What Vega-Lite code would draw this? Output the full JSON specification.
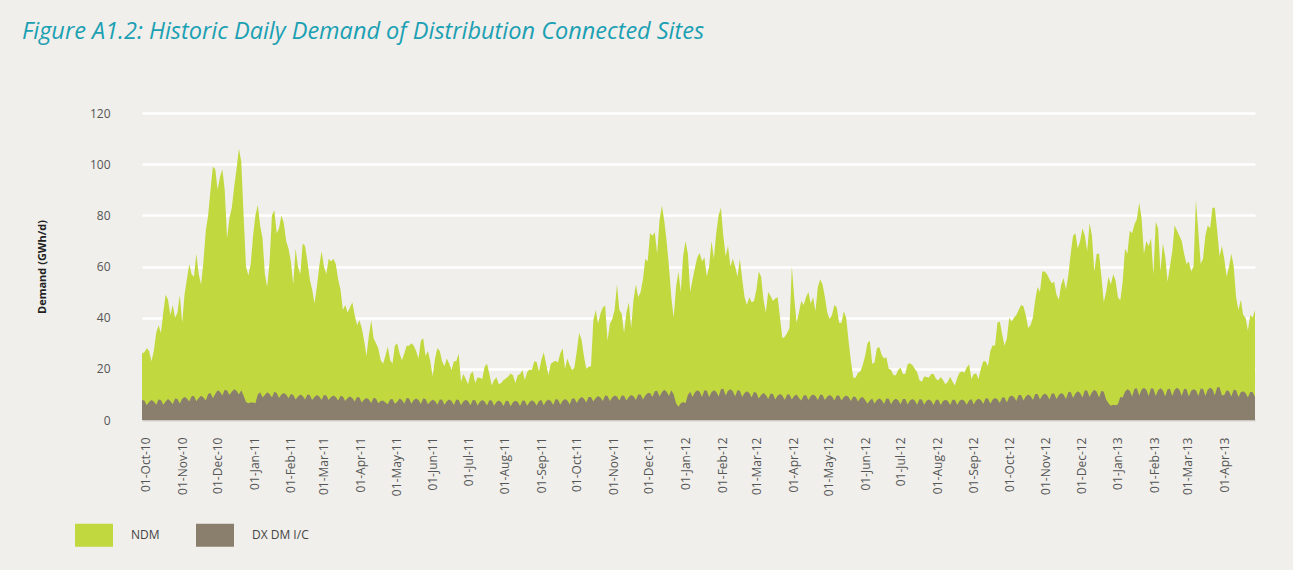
{
"$schema":"https://vega.github.io/schema/vega-lite/v6.json",
"width":1113,"height":307,
"autosize":{"type":"none"},
"padding":{"left":142,"top":113,"right":38,"bottom":150},
"background":"#f0efeb",
"title":{"text":"Figure A1.2: Historic Daily Demand of Distribution Connected Sites","anchor":"start","frame":"group","dx":-120,"offset":64,"font":"Open Sans","fontStyle":"italic","fontWeight":"normal","fontSize":23.5,"color":"#1ba0b3"},
"config":{"view":{"stroke":null},"font":"Open Sans"},
"data":{"values":[
{"date":"2010-09-28","total":26,"dx":7.8},{"date":"2010-09-30","total":26.5,"dx":7.6},{"date":"2010-10-02","total":28,"dx":5.8},{"date":"2010-10-04","total":27,"dx":7},
{"date":"2010-10-06","total":23,"dx":7.8},{"date":"2010-10-08","total":27,"dx":7.2},{"date":"2010-10-10","total":34,"dx":6},{"date":"2010-10-12","total":37,"dx":8},
{"date":"2010-10-14","total":34,"dx":7.8},{"date":"2010-10-16","total":42,"dx":6},{"date":"2010-10-18","total":49,"dx":7.2},{"date":"2010-10-20","total":47,"dx":8.2},
{"date":"2010-10-22","total":41,"dx":7.4},{"date":"2010-10-24","total":45,"dx":6.2},{"date":"2010-10-26","total":40,"dx":8.4},{"date":"2010-10-28","total":42,"dx":8.2},
{"date":"2010-10-30","total":49,"dx":6.4},{"date":"2010-11-01","total":38,"dx":8.3},{"date":"2010-11-03","total":49,"dx":9},{"date":"2010-11-05","total":55,"dx":8.4},
{"date":"2010-11-07","total":61,"dx":7.2},{"date":"2010-11-09","total":57,"dx":9.3},{"date":"2010-11-11","total":56,"dx":9.4},{"date":"2010-11-13","total":65,"dx":7.3},
{"date":"2010-11-15","total":57,"dx":8.6},{"date":"2010-11-17","total":53,"dx":9.5},{"date":"2010-11-19","total":62,"dx":8.8},{"date":"2010-11-21","total":74,"dx":7.6},
{"date":"2010-11-23","total":80,"dx":10.2},{"date":"2010-11-25","total":90,"dx":10.6},{"date":"2010-11-27","total":99,"dx":8.5},{"date":"2010-11-29","total":98,"dx":10.2},
{"date":"2010-12-01","total":90,"dx":11.6},{"date":"2010-12-03","total":95,"dx":11},{"date":"2010-12-05","total":98,"dx":9.6},{"date":"2010-12-07","total":90,"dx":11.8},
{"date":"2010-12-09","total":71,"dx":11.5},{"date":"2010-12-11","total":79,"dx":9.8},{"date":"2010-12-13","total":83,"dx":11},{"date":"2010-12-15","total":91,"dx":12},
{"date":"2010-12-17","total":98,"dx":11.4},{"date":"2010-12-19","total":106,"dx":10},{"date":"2010-12-21","total":101,"dx":11.6},{"date":"2010-12-23","total":80,"dx":9.5},
{"date":"2010-12-25","total":60,"dx":7},{"date":"2010-12-27","total":56.5,"dx":6.5},{"date":"2010-12-29","total":61,"dx":6.8},{"date":"2010-12-31","total":72,"dx":6.8},
{"date":"2011-01-02","total":80,"dx":6.5},{"date":"2011-01-04","total":84,"dx":10},{"date":"2011-01-06","total":76,"dx":10.8},{"date":"2011-01-08","total":71,"dx":8.8},
{"date":"2011-01-10","total":57,"dx":9.8},{"date":"2011-01-12","total":52,"dx":10.8},{"date":"2011-01-14","total":62,"dx":10.2},{"date":"2011-01-16","total":80,"dx":8.8},
{"date":"2011-01-18","total":82,"dx":11},{"date":"2011-01-20","total":73,"dx":10.6},{"date":"2011-01-22","total":75,"dx":8.6},{"date":"2011-01-24","total":80,"dx":10},
{"date":"2011-01-26","total":77,"dx":10.6},{"date":"2011-01-28","total":70,"dx":10},{"date":"2011-01-30","total":67,"dx":8.5},{"date":"2011-02-01","total":62,"dx":10.2},
{"date":"2011-02-03","total":53,"dx":9.8},{"date":"2011-02-05","total":67,"dx":8},{"date":"2011-02-07","total":60,"dx":9.2},{"date":"2011-02-09","total":57,"dx":10},
{"date":"2011-02-11","total":69,"dx":9.4},{"date":"2011-02-13","total":68,"dx":8},{"date":"2011-02-15","total":62,"dx":10},{"date":"2011-02-17","total":55,"dx":9.8},
{"date":"2011-02-19","total":51,"dx":7.8},{"date":"2011-02-21","total":45.5,"dx":9},{"date":"2011-02-23","total":52,"dx":9.8},{"date":"2011-02-25","total":60,"dx":9.2},
{"date":"2011-02-27","total":66,"dx":7.8},{"date":"2011-03-01","total":60,"dx":9.8},{"date":"2011-03-03","total":57,"dx":9.6},{"date":"2011-03-05","total":63,"dx":7.8},
{"date":"2011-03-07","total":62,"dx":9},{"date":"2011-03-09","total":63,"dx":9.6},{"date":"2011-03-11","total":61,"dx":9},{"date":"2011-03-13","total":55,"dx":7.6},
{"date":"2011-03-15","total":51,"dx":9.4},{"date":"2011-03-17","total":43,"dx":9.2},{"date":"2011-03-19","total":45,"dx":7.4},{"date":"2011-03-21","total":42,"dx":8.6},
{"date":"2011-03-23","total":44,"dx":9.2},{"date":"2011-03-25","total":46,"dx":8.6},{"date":"2011-03-27","total":41,"dx":7.2},{"date":"2011-03-29","total":37,"dx":9},
{"date":"2011-03-31","total":39,"dx":8.8},{"date":"2011-04-02","total":36,"dx":6.8},{"date":"2011-04-04","total":31,"dx":8},{"date":"2011-04-06","total":25,"dx":8.6},
{"date":"2011-04-08","total":33,"dx":8},{"date":"2011-04-10","total":39,"dx":6.6},{"date":"2011-04-12","total":32,"dx":8.6},{"date":"2011-04-14","total":30,"dx":8.4},
{"date":"2011-04-16","total":28,"dx":6.5},{"date":"2011-04-18","total":23.5,"dx":7.4},{"date":"2011-04-20","total":22,"dx":7.6},{"date":"2011-04-22","total":25,"dx":6.8},
{"date":"2011-04-24","total":28.6,"dx":6.2},{"date":"2011-04-26","total":23.5,"dx":8},{"date":"2011-04-28","total":22,"dx":8.2},{"date":"2011-04-30","total":29,"dx":6.4},
{"date":"2011-05-02","total":30,"dx":7},{"date":"2011-05-04","total":26,"dx":8.4},{"date":"2011-05-06","total":23.4,"dx":7.8},{"date":"2011-05-08","total":26,"dx":6.4},
{"date":"2011-05-10","total":29,"dx":8.6},{"date":"2011-05-12","total":29,"dx":8.4},{"date":"2011-05-14","total":30,"dx":6.4},{"date":"2011-05-16","total":29,"dx":7.8},
{"date":"2011-05-18","total":27,"dx":8.4},{"date":"2011-05-20","total":24,"dx":7.8},{"date":"2011-05-22","total":31,"dx":6.3},{"date":"2011-05-24","total":32,"dx":8.4},
{"date":"2011-05-26","total":25,"dx":8.2},{"date":"2011-05-28","total":27,"dx":6.2},{"date":"2011-05-30","total":23,"dx":7.2},{"date":"2011-06-01","total":17,"dx":7.9},
{"date":"2011-06-03","total":24,"dx":7.4},{"date":"2011-06-05","total":28,"dx":6},{"date":"2011-06-07","total":27,"dx":8},{"date":"2011-06-09","total":23,"dx":7.9},
{"date":"2011-06-11","total":21,"dx":6},{"date":"2011-06-13","total":24,"dx":7.3},{"date":"2011-06-15","total":22,"dx":8},{"date":"2011-06-17","total":19.5,"dx":7.4},
{"date":"2011-06-19","total":23,"dx":5.9},{"date":"2011-06-21","total":23,"dx":8},{"date":"2011-06-23","total":26,"dx":7.8},{"date":"2011-06-25","total":15,"dx":5.8},
{"date":"2011-06-27","total":18,"dx":7.2},{"date":"2011-06-29","total":16,"dx":7.9},{"date":"2011-07-01","total":14,"dx":7.3},{"date":"2011-07-03","total":18,"dx":5.8},
{"date":"2011-07-05","total":19,"dx":7.8},{"date":"2011-07-07","total":14.5,"dx":7.7},{"date":"2011-07-09","total":16.6,"dx":5.7},{"date":"2011-07-11","total":16.5,"dx":7.1},
{"date":"2011-07-13","total":16,"dx":7.8},{"date":"2011-07-15","total":20.8,"dx":7.2},{"date":"2011-07-17","total":22,"dx":5.7},{"date":"2011-07-19","total":18,"dx":7.7},
{"date":"2011-07-21","total":13.5,"dx":7.6},{"date":"2011-07-23","total":15.6,"dx":5.6},{"date":"2011-07-25","total":16.6,"dx":7},{"date":"2011-07-27","total":14,"dx":7.6},
{"date":"2011-07-29","total":14.5,"dx":7},{"date":"2011-07-31","total":15.6,"dx":5.5},{"date":"2011-08-02","total":16.2,"dx":7.5},{"date":"2011-08-04","total":17,"dx":7.4},
{"date":"2011-08-06","total":18.2,"dx":5.4},{"date":"2011-08-08","total":17.5,"dx":6.9},{"date":"2011-08-10","total":14.5,"dx":7.5},{"date":"2011-08-12","total":17.5,"dx":7},
{"date":"2011-08-14","total":18,"dx":5.5},{"date":"2011-08-16","total":19.5,"dx":7.6},{"date":"2011-08-18","total":15.6,"dx":7.5},{"date":"2011-08-20","total":18.8,"dx":5.6},
{"date":"2011-08-22","total":19.7,"dx":7},{"date":"2011-08-24","total":19.5,"dx":7.7},{"date":"2011-08-26","total":23,"dx":7.1},{"date":"2011-08-28","total":22.7,"dx":5.7},
{"date":"2011-08-30","total":19,"dx":7.4},{"date":"2011-09-01","total":23.5,"dx":7.8},{"date":"2011-09-03","total":26.5,"dx":5.8},{"date":"2011-09-05","total":22,"dx":7.3},
{"date":"2011-09-07","total":17.5,"dx":8},{"date":"2011-09-09","total":22,"dx":7.4},{"date":"2011-09-11","total":22.7,"dx":5.9},{"date":"2011-09-13","total":23.2,"dx":8.1},
{"date":"2011-09-15","total":22.5,"dx":8},{"date":"2011-09-17","total":26,"dx":6},{"date":"2011-09-19","total":28,"dx":7.5},{"date":"2011-09-21","total":20,"dx":8.2},
{"date":"2011-09-23","total":24,"dx":7.6},{"date":"2011-09-25","total":21.5,"dx":6.1},{"date":"2011-09-27","total":19.5,"dx":8.4},{"date":"2011-09-29","total":20.5,"dx":8.4},
{"date":"2011-10-01","total":27,"dx":6.6},{"date":"2011-10-03","total":34,"dx":8.2},{"date":"2011-10-05","total":31.5,"dx":9},{"date":"2011-10-07","total":25,"dx":8.4},
{"date":"2011-10-09","total":20,"dx":6.8},{"date":"2011-10-11","total":20.8,"dx":9},{"date":"2011-10-13","total":21,"dx":9},{"date":"2011-10-15","total":39,"dx":7.2},
{"date":"2011-10-17","total":43,"dx":8.6},{"date":"2011-10-19","total":37.7,"dx":9.4},{"date":"2011-10-21","total":41.5,"dx":8.8},{"date":"2011-10-23","total":44,"dx":7.4},
{"date":"2011-10-25","total":44.8,"dx":9.6},{"date":"2011-10-27","total":31,"dx":9.4},{"date":"2011-10-29","total":37.5,"dx":7.4},{"date":"2011-10-31","total":39.5,"dx":8.8},
{"date":"2011-11-02","total":43,"dx":9.6},{"date":"2011-11-04","total":53,"dx":9.2},{"date":"2011-11-06","total":43,"dx":7.6},{"date":"2011-11-08","total":41.5,"dx":9.6},
{"date":"2011-11-10","total":34,"dx":9.5},{"date":"2011-11-12","total":42,"dx":7.6},{"date":"2011-11-14","total":46,"dx":9},{"date":"2011-11-16","total":36,"dx":9.8},
{"date":"2011-11-18","total":47,"dx":9.3},{"date":"2011-11-20","total":53,"dx":7.8},{"date":"2011-11-22","total":48,"dx":10},{"date":"2011-11-24","total":50,"dx":10},
{"date":"2011-11-26","total":55,"dx":8},{"date":"2011-11-28","total":63,"dx":9.6},{"date":"2011-11-30","total":62,"dx":10.6},{"date":"2011-12-02","total":73,"dx":10.6},
{"date":"2011-12-04","total":72,"dx":9},{"date":"2011-12-06","total":73.4,"dx":11.2},{"date":"2011-12-08","total":65,"dx":11.4},{"date":"2011-12-10","total":78,"dx":9.2},
{"date":"2011-12-12","total":83.8,"dx":10.8},{"date":"2011-12-14","total":78,"dx":11.8},{"date":"2011-12-16","total":70,"dx":11},{"date":"2011-12-18","total":60,"dx":9.4},
{"date":"2011-12-20","total":48,"dx":11.6},{"date":"2011-12-22","total":40,"dx":10},{"date":"2011-12-24","total":52,"dx":6.5},{"date":"2011-12-26","total":58,"dx":5.2},
{"date":"2011-12-28","total":50,"dx":6.5},{"date":"2011-12-30","total":64,"dx":7},{"date":"2012-01-01","total":70,"dx":6.5},{"date":"2012-01-03","total":65,"dx":9.8},
{"date":"2012-01-05","total":50,"dx":11},{"date":"2012-01-07","total":55,"dx":9},{"date":"2012-01-09","total":59.5,"dx":10.8},{"date":"2012-01-11","total":63.6,"dx":11.6},
{"date":"2012-01-13","total":65.3,"dx":11},{"date":"2012-01-15","total":62,"dx":9},{"date":"2012-01-17","total":63.6,"dx":11.6},{"date":"2012-01-19","total":56,"dx":11.4},
{"date":"2012-01-21","total":60,"dx":9},{"date":"2012-01-23","total":70,"dx":10.8},{"date":"2012-01-25","total":63,"dx":11.6},{"date":"2012-01-27","total":73,"dx":11},
{"date":"2012-01-29","total":80,"dx":9.2},{"date":"2012-01-31","total":83,"dx":12},{"date":"2012-02-02","total":72,"dx":12.2},{"date":"2012-02-04","total":64,"dx":9.6},
{"date":"2012-02-06","total":68,"dx":11.4},{"date":"2012-02-08","total":60,"dx":12},{"date":"2012-02-10","total":63,"dx":11.2},{"date":"2012-02-12","total":60,"dx":9.2},
{"date":"2012-02-14","total":56,"dx":11.6},{"date":"2012-02-16","total":63,"dx":11.4},{"date":"2012-02-18","total":55,"dx":9},{"date":"2012-02-20","total":48,"dx":10.6},
{"date":"2012-02-22","total":45,"dx":11.2},{"date":"2012-02-24","total":48,"dx":10.6},{"date":"2012-02-26","total":46,"dx":8.8},{"date":"2012-02-28","total":46.5,"dx":11},
{"date":"2012-03-01","total":51,"dx":10.6},{"date":"2012-03-03","total":58,"dx":8.4},{"date":"2012-03-05","total":56,"dx":9.8},{"date":"2012-03-07","total":47,"dx":10.6},
{"date":"2012-03-09","total":42,"dx":9.8},{"date":"2012-03-11","total":50,"dx":8.2},{"date":"2012-03-13","total":48.5,"dx":10.4},{"date":"2012-03-15","total":46.5,"dx":10.2},
{"date":"2012-03-17","total":47.5,"dx":8},{"date":"2012-03-19","total":48,"dx":9.6},{"date":"2012-03-21","total":40,"dx":10.2},{"date":"2012-03-23","total":32,"dx":9.6},
{"date":"2012-03-25","total":32.5,"dx":7.8},{"date":"2012-03-27","total":34,"dx":10},{"date":"2012-03-29","total":36,"dx":10},{"date":"2012-03-31","total":60,"dx":8},
{"date":"2012-04-02","total":48,"dx":9.4},{"date":"2012-04-04","total":38,"dx":10},{"date":"2012-04-06","total":42,"dx":8.6},{"date":"2012-04-08","total":46.5,"dx":7.6},
{"date":"2012-04-10","total":45,"dx":9.6},{"date":"2012-04-12","total":48,"dx":9.8},{"date":"2012-04-14","total":50,"dx":7.8},{"date":"2012-04-16","total":45.5,"dx":9.4},
{"date":"2012-04-18","total":48,"dx":10},{"date":"2012-04-20","total":42.5,"dx":9.4},{"date":"2012-04-22","total":52,"dx":7.8},{"date":"2012-04-24","total":55,"dx":10},
{"date":"2012-04-26","total":53,"dx":9.8},{"date":"2012-04-28","total":48,"dx":7.8},{"date":"2012-04-30","total":42,"dx":9.2},{"date":"2012-05-02","total":39.5,"dx":9.8},
{"date":"2012-05-04","total":41,"dx":9.2},{"date":"2012-05-06","total":45,"dx":7.6},{"date":"2012-05-08","total":44,"dx":9.6},{"date":"2012-05-10","total":38,"dx":9.6},
{"date":"2012-05-12","total":38,"dx":7.6},{"date":"2012-05-14","total":42.5,"dx":9},{"date":"2012-05-16","total":40,"dx":9.6},{"date":"2012-05-18","total":31,"dx":9},
{"date":"2012-05-20","total":23,"dx":7.4},{"date":"2012-05-22","total":16.5,"dx":9.2},{"date":"2012-05-24","total":16.5,"dx":9},{"date":"2012-05-26","total":18.5,"dx":7.2},
{"date":"2012-05-28","total":19,"dx":8.6},{"date":"2012-05-30","total":21.5,"dx":9},{"date":"2012-06-01","total":25,"dx":7.8},{"date":"2012-06-03","total":30,"dx":6.4},
{"date":"2012-06-05","total":31,"dx":7.6},{"date":"2012-06-07","total":22,"dx":8.4},{"date":"2012-06-09","total":22.5,"dx":6.4},{"date":"2012-06-11","total":28,"dx":7.8},
{"date":"2012-06-13","total":28.5,"dx":8.4},{"date":"2012-06-15","total":25.5,"dx":7.8},{"date":"2012-06-17","total":24,"dx":6.3},{"date":"2012-06-19","total":24.5,"dx":8.4},
{"date":"2012-06-21","total":20,"dx":8.3},{"date":"2012-06-23","total":19.5,"dx":6.2},{"date":"2012-06-25","total":17.5,"dx":7.7},{"date":"2012-06-27","total":17.5,"dx":8.3},
{"date":"2012-06-29","total":19.5,"dx":7.7},{"date":"2012-07-01","total":20.5,"dx":6.2},{"date":"2012-07-03","total":18,"dx":8.2},{"date":"2012-07-05","total":18,"dx":8.2},
{"date":"2012-07-07","total":21.8,"dx":6.1},{"date":"2012-07-09","total":22.2,"dx":7.6},{"date":"2012-07-11","total":21.5,"dx":8.2},{"date":"2012-07-13","total":20,"dx":7.6},
{"date":"2012-07-15","total":18.8,"dx":6},{"date":"2012-07-17","total":15.5,"dx":8.1},{"date":"2012-07-19","total":15,"dx":8},{"date":"2012-07-21","total":17,"dx":6},
{"date":"2012-07-23","total":16.8,"dx":7.5},{"date":"2012-07-25","total":16.6,"dx":8},{"date":"2012-07-27","total":18,"dx":7.4},{"date":"2012-07-29","total":18,"dx":5.9},
{"date":"2012-07-31","total":16,"dx":7.9},{"date":"2012-08-02","total":15.5,"dx":7.9},{"date":"2012-08-04","total":16.8,"dx":5.9},{"date":"2012-08-06","total":15.5,"dx":7.4},
{"date":"2012-08-08","total":14,"dx":7.9},{"date":"2012-08-10","total":15,"dx":7.4},{"date":"2012-08-12","total":16.9,"dx":5.9},{"date":"2012-08-14","total":15,"dx":7.9},
{"date":"2012-08-16","total":13.5,"dx":7.9},{"date":"2012-08-18","total":16.5,"dx":5.9},{"date":"2012-08-20","total":18.6,"dx":7.5},{"date":"2012-08-22","total":19,"dx":8},
{"date":"2012-08-24","total":18.5,"dx":7.5},{"date":"2012-08-26","total":20.5,"dx":6},{"date":"2012-08-28","total":21.8,"dx":7.6},{"date":"2012-08-30","total":16,"dx":8.2},
{"date":"2012-09-01","total":18,"dx":6.1},{"date":"2012-09-03","total":18.2,"dx":7.7},{"date":"2012-09-05","total":16,"dx":8.3},{"date":"2012-09-07","total":20,"dx":7.8},
{"date":"2012-09-09","total":23,"dx":6.3},{"date":"2012-09-11","total":23,"dx":8.5},{"date":"2012-09-13","total":21,"dx":8.4},{"date":"2012-09-15","total":27,"dx":6.4},
{"date":"2012-09-17","total":29.2,"dx":8},{"date":"2012-09-19","total":29,"dx":8.6},{"date":"2012-09-21","total":38,"dx":8.1},{"date":"2012-09-23","total":38.5,"dx":6.6},
{"date":"2012-09-25","total":33.5,"dx":8.8},{"date":"2012-09-27","total":29,"dx":8.8},{"date":"2012-09-29","total":32,"dx":6.8},{"date":"2012-10-01","total":40,"dx":9},
{"date":"2012-10-03","total":38.5,"dx":9.6},{"date":"2012-10-05","total":40,"dx":9},{"date":"2012-10-07","total":41,"dx":7.4},{"date":"2012-10-09","total":43,"dx":9.8},
{"date":"2012-10-11","total":45,"dx":9.8},{"date":"2012-10-13","total":44.5,"dx":7.6},{"date":"2012-10-15","total":41,"dx":9.2},{"date":"2012-10-17","total":36,"dx":10},
{"date":"2012-10-19","total":37,"dx":9.4},{"date":"2012-10-21","total":40,"dx":7.8},{"date":"2012-10-23","total":47,"dx":10.2},{"date":"2012-10-25","total":52,"dx":10.2},
{"date":"2012-10-27","total":50,"dx":8},{"date":"2012-10-29","total":58,"dx":9.6},{"date":"2012-10-31","total":58,"dx":10.4},{"date":"2012-11-02","total":57,"dx":9.8},
{"date":"2012-11-04","total":55,"dx":8},{"date":"2012-11-06","total":53.5,"dx":10.4},{"date":"2012-11-08","total":54,"dx":10.4},{"date":"2012-11-10","total":49,"dx":8.2},
{"date":"2012-11-12","total":47,"dx":9.8},{"date":"2012-11-14","total":53,"dx":10.6},{"date":"2012-11-16","total":55.5,"dx":10},{"date":"2012-11-18","total":51,"dx":8.2},
{"date":"2012-11-20","total":56.5,"dx":10.8},{"date":"2012-11-22","total":65,"dx":11},{"date":"2012-11-24","total":72,"dx":8.6},{"date":"2012-11-26","total":73,"dx":10.4},
{"date":"2012-11-28","total":67,"dx":11.2},{"date":"2012-11-30","total":70,"dx":10.6},{"date":"2012-12-02","total":75,"dx":8.8},{"date":"2012-12-04","total":72,"dx":11.6},
{"date":"2012-12-06","total":66,"dx":11.4},{"date":"2012-12-08","total":77,"dx":9},{"date":"2012-12-10","total":72,"dx":10.8},{"date":"2012-12-12","total":58,"dx":11.8},
{"date":"2012-12-14","total":65,"dx":11},{"date":"2012-12-16","total":65,"dx":8.8},{"date":"2012-12-18","total":56,"dx":11.4},{"date":"2012-12-20","total":46,"dx":11},
{"date":"2012-12-22","total":50,"dx":8},{"date":"2012-12-24","total":56,"dx":6.5},{"date":"2012-12-26","total":53,"dx":5.6},{"date":"2012-12-28","total":57,"dx":6},
{"date":"2012-12-30","total":54.5,"dx":5.8},{"date":"2013-01-01","total":48,"dx":6.2},{"date":"2013-01-03","total":46.8,"dx":9},{"date":"2013-01-05","total":54,"dx":8.8},
{"date":"2013-01-07","total":67,"dx":11},{"date":"2013-01-09","total":65,"dx":12},{"date":"2013-01-11","total":74,"dx":11.4},{"date":"2013-01-13","total":73,"dx":9.2},
{"date":"2013-01-15","total":76.5,"dx":12.2},{"date":"2013-01-17","total":78.5,"dx":12.4},{"date":"2013-01-19","total":85,"dx":9.6},{"date":"2013-01-21","total":79,"dx":11.8},
{"date":"2013-01-23","total":65,"dx":12.6},{"date":"2013-01-25","total":70,"dx":11.8},{"date":"2013-01-27","total":68,"dx":9.4},{"date":"2013-01-29","total":71,"dx":12.4},
{"date":"2013-01-31","total":57,"dx":12.2},{"date":"2013-02-02","total":77.5,"dx":9.4},{"date":"2013-02-04","total":75,"dx":11.6},{"date":"2013-02-06","total":58,"dx":12.4},
{"date":"2013-02-08","total":69,"dx":11.6},{"date":"2013-02-10","total":64,"dx":9.2},{"date":"2013-02-12","total":54,"dx":12},{"date":"2013-02-14","total":60,"dx":12.2},
{"date":"2013-02-16","total":66,"dx":9.4},{"date":"2013-02-18","total":76,"dx":11.8},{"date":"2013-02-20","total":74,"dx":12.6},{"date":"2013-02-22","total":72,"dx":11.8},
{"date":"2013-02-24","total":70,"dx":9.4},{"date":"2013-02-26","total":65,"dx":12.2},{"date":"2013-02-28","total":61,"dx":12},{"date":"2013-03-02","total":62,"dx":9.2},
{"date":"2013-03-04","total":58,"dx":11.4},{"date":"2013-03-06","total":60,"dx":12},{"date":"2013-03-08","total":86,"dx":11.6},{"date":"2013-03-10","total":74,"dx":9.4},
{"date":"2013-03-12","total":61,"dx":12.2},{"date":"2013-03-14","total":63,"dx":12.2},{"date":"2013-03-16","total":72,"dx":9.4},{"date":"2013-03-18","total":76,"dx":11.8},
{"date":"2013-03-20","total":75,"dx":12.6},{"date":"2013-03-22","total":83,"dx":12},{"date":"2013-03-24","total":83,"dx":9.6},{"date":"2013-03-26","total":74,"dx":12.8},
{"date":"2013-03-28","total":64,"dx":12.8},{"date":"2013-03-30","total":68,"dx":9.6},{"date":"2013-04-01","total":63,"dx":9.8},{"date":"2013-04-03","total":56,"dx":11.6},
{"date":"2013-04-05","total":60,"dx":11.2},{"date":"2013-04-07","total":65,"dx":9.2},{"date":"2013-04-09","total":60,"dx":11.8},{"date":"2013-04-11","total":48,"dx":11.6},
{"date":"2013-04-13","total":43,"dx":9},{"date":"2013-04-15","total":47,"dx":10.8},{"date":"2013-04-17","total":41,"dx":11.2},{"date":"2013-04-19","total":40,"dx":10.6},
{"date":"2013-04-21","total":35,"dx":8.8},{"date":"2013-04-23","total":41,"dx":11},{"date":"2013-04-25","total":40,"dx":10.8},{"date":"2013-04-27","total":43,"dx":9}
]},
"encoding":{
"x":{"field":"date","type":"temporal","scale":{"type":"utc","nice":false},
"axis":{"title":null,"format":"%d-%b-%y","labelAngle":-90,"tickCount":{"interval":"month","step":1},"grid":false,"ticks":false,"domain":true,"domainColor":"#ccc8c0","domainWidth":2,"labelPadding":17,"labelFont":"Open Sans","labelFontSize":12,"labelColor":"#555555","labelOverlap":false,"labelFlush":false}}
},
"layer":[
{"mark":{"type":"area","interpolate":"linear"},
"encoding":{
"y":{"field":"total","type":"quantitative","scale":{"domain":[0,120],"nice":false},
"axis":{"title":"Demand (GWh/d)","titleFont":"Open Sans","titleFontWeight":"bold","titleFontSize":11,"titleColor":"#222222","titleAngle":-90,"titleX":-97,"titleY":153.5,"titleAlign":"center","titleBaseline":"alphabetic","values":[0,20,40,60,80,100,120],"domain":false,"ticks":false,"labelPadding":32,"labelFont":"Open Sans","labelFontSize":12,"labelColor":"#555555","grid":true,"gridColor":"#ffffff","gridWidth":2.5}},
"color":{"datum":"NDM","type":"nominal","scale":{"domain":["NDM","DX DM I/C"],"range":["#c1d83f","#8a7f6d"]},
"legend":{"orient":"none","legendX":-67,"legendY":403,"direction":"horizontal","title":null,"symbolType":"M-1,-0.605H1V0.605H-1Z","symbolSize":1444,"symbolStrokeWidth":0,"symbolOpacity":1,"labelFont":"Open Sans","labelFontSize":12,"labelColor":"#444444","labelOffset":18,"columnPadding":36,"padding":0}}
}},
{"mark":{"type":"area","interpolate":"linear"},
"encoding":{
"y":{"field":"dx","type":"quantitative"},
"color":{"datum":"DX DM I/C","type":"nominal"}
}}
]
}
